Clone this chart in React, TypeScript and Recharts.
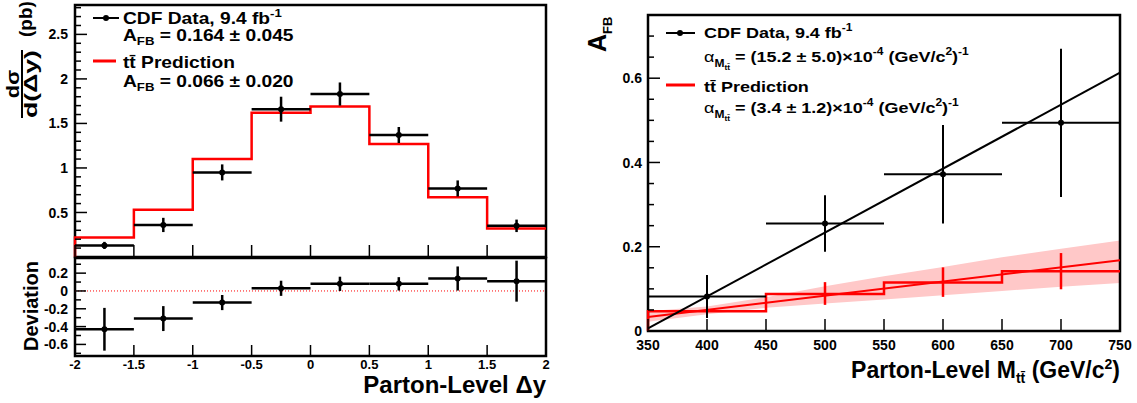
import React from 'react'
import {
  ComposedChart,
  Line,
  Scatter,
  ErrorBar,
  XAxis,
  YAxis,
  Area,
  ReferenceLine,
  ReferenceArea,
} from 'recharts'

const FONT = '"Liberation Sans", Arial, Helvetica, sans-serif'

// left panel: parton-level delta-y, 8 bins of 0.5
const dyEdges = [-2, -1.5, -1, -0.5, 0, 0.5, 1, 1.5, 2]
const dyCenters = [-1.75, -1.25, -0.75, -0.25, 0.25, 0.75, 1.25, 1.75]
const dyData = [0.13, 0.36, 0.95, 1.66, 1.83, 1.37, 0.77, 0.35]
const dyDataErr = [0.04, 0.08, 0.09, 0.14, 0.13, 0.09, 0.09, 0.07]
const dyPred = [0.22, 0.53, 1.1, 1.62, 1.69, 1.27, 0.67, 0.32]
const dev = [-0.43, -0.31, -0.13, 0.03, 0.08, 0.08, 0.14, 0.11]
const devErr = [0.24, 0.14, 0.085, 0.085, 0.08, 0.075, 0.135, 0.23]

// right panel: A_FB vs M_tt
const mEdges = [350, 450, 550, 650, 750]
const mCenters = [400, 500, 600, 700]
const afbData = [0.082, 0.255, 0.372, 0.494]
const afbErr = [0.051, 0.067, 0.117, 0.176]
const afbPred = [0.047, 0.088, 0.115, 0.142]
const predPtM = [500, 600, 700]
const predPtVal = [0.089, 0.116, 0.142]
const predPtErr = [0.027, 0.035, 0.043]
const dataFitM = [350, 750]
const dataFitVal = [0.006, 0.613]
const predFitM = [350, 750]
const predFitVal = [0.033, 0.168]
const bandM = [350, 400, 450, 500, 550, 600, 650, 700, 750]
const bandLo = [0.022, 0.04, 0.055, 0.065, 0.075, 0.085, 0.095, 0.105, 0.114]
const bandHi = [0.047, 0.058, 0.08, 0.106, 0.13, 0.152, 0.175, 0.195, 0.215]

// ticks
const topMajors = [0.5, 1, 1.5, 2, 2.5]
const topTicks = Array.from({ length: 28 }, (_, i) => +(0.1 * (i + 1)).toFixed(1))
const devMajors = [-0.6, -0.4, -0.2, 0, 0.2]
const devTicks = [-0.7, -0.6, -0.5, -0.4, -0.3, -0.2, -0.1, 0, 0.1, 0.2, 0.3]
const afbMajors = [0, 0.2, 0.4, 0.6]
const afbTicks = Array.from({ length: 15 }, (_, i) => +(0.05 * i).toFixed(2))
const mTicks = [350, 400, 450, 500, 550, 600, 650, 700, 750]

const stepData = (edges: number[], vals: number[]) => [
  { x: edges[0], y: 0 },
  ...edges.map((e, i) => ({ x: e, y: vals[Math.min(i, vals.length - 1)] })),
]

const dyPts = dyCenters.map((x, i) => ({ x, y: dyData[i], ex: 0.25, ey: dyDataErr[i] }))
const devPts = dyCenters.map((x, i) => ({ x, y: dev[i], ex: 0.25, ey: devErr[i] }))
const afbPts = mCenters.map((x, i) => ({ x, y: afbData[i], ex: 50, ey: afbErr[i] }))
const predPts = predPtM.map((x, i) => ({ x, y: predPtVal[i], ey: predPtErr[i] }))
const dataFit = dataFitM.map((x, i) => ({ x, y: dataFitVal[i] }))
const predFit = predFitM.map((x, i) => ({ x, y: predFitVal[i] }))
const band = bandM.map((x, i) => ({ x, lo: bandLo[i], hi: bandHi[i] }))

const txt = { fontFamily: FONT, fontWeight: 'bold' as const, fill: '#000' }

const yTick = (majors: number[], gap: number, big: number, small: number) => (p: any) => {
  const v = p.payload.value
  const major = majors.includes(v)
  const ax = p.x + gap
  return (
    <g>
      <line x1={ax} x2={ax + (major ? big : small)} y1={p.y} y2={p.y} stroke="#000" strokeWidth={1.5} />
      {major && (
        <text x={p.x} y={p.y} dy="0.36em" textAnchor="end" fontSize={14} {...txt}>
          {v}
        </text>
      )}
    </g>
  )
}

const xTick = (gap: number, len: number, size: number) => (p: any) => {
  const ay = p.y - gap
  return (
    <g>
      <line x1={p.x} x2={p.x} y1={ay} y2={ay - len} stroke="#000" strokeWidth={1.5} />
      {size > 0 && (
        <text x={p.x} y={p.y} dy="0.72em" textAnchor="middle" fontSize={size} {...txt}>
          {p.payload.value}
        </text>
      )}
    </g>
  )
}

const dot = (p: any) => <circle cx={p.cx} cy={p.cy} r={3} fill="#000" />
const noDot = () => <g />

const TopLeft = () => (
  <ComposedChart width={560} height={262} margin={{ top: 5, right: 14, bottom: 0, left: 0 }}>
    <XAxis type="number" dataKey="x" domain={[-2, 2]} ticks={dyEdges} interval={0} height={5}
      tickSize={0} tickMargin={0} axisLine={false} tick={xTick(0, 12, 0)} />
    <YAxis type="number" dataKey="y" domain={[0, 2.83]} ticks={topTicks} interval={0} width={75}
      tickSize={0} tickMargin={7} axisLine={false} tick={yTick(topMajors, 7, 12, 6)} />
    <Line data={stepData(dyEdges, dyPred)} dataKey="y" type="stepAfter" stroke="#ff0000"
      strokeWidth={2.5} dot={false} isAnimationActive={false} />
    <Scatter data={dyPts} dataKey="y" shape={dot} isAnimationActive={false}>
      <ErrorBar dataKey="ex" direction="x" width={0} stroke="#000" strokeWidth={2.5} />
      <ErrorBar dataKey="ey" direction="y" width={0} stroke="#000" strokeWidth={2.5} />
    </Scatter>
    <ReferenceArea x1={-2} x2={2} y1={0} y2={2.83} fill="none" stroke="#000" strokeWidth={2.5} />
  </ComposedChart>
)

const BottomLeft = () => (
  <ComposedChart width={560} height={151} margin={{ top: 6, right: 14, bottom: 0, left: 0 }}>
    <XAxis type="number" dataKey="x" domain={[-2, 2]} ticks={dyEdges} interval={0} height={47}
      tickSize={0} tickMargin={4} axisLine={false} tick={xTick(4, 11, 13)} />
    <YAxis type="number" dataKey="y" domain={[-0.73, 0.37]} ticks={devTicks} interval={0} width={75}
      tickSize={0} tickMargin={7} axisLine={false} tick={yTick(devMajors, 7, 11, 6)} />
    <ReferenceLine y={0} stroke="#ff0000" strokeDasharray="1 2" strokeWidth={1} />
    <Scatter data={devPts} dataKey="y" shape={dot} isAnimationActive={false}>
      <ErrorBar dataKey="ex" direction="x" width={0} stroke="#000" strokeWidth={2.5} />
      <ErrorBar dataKey="ey" direction="y" width={0} stroke="#000" strokeWidth={2.5} />
    </Scatter>
    <ReferenceArea x1={-2} x2={2} y1={-0.73} y2={0.37} fill="none" stroke="#000" strokeWidth={2.5} />
  </ComposedChart>
)

const Right = () => (
  <ComposedChart width={567} height={403} data={band} margin={{ top: 15, right: 17, bottom: 0, left: 0 }}>
    <XAxis type="number" dataKey="x" domain={[350, 750]} ticks={mTicks} interval={0} height={72}
      tickSize={0} tickMargin={9} axisLine={false} tick={xTick(9, 12, 14)} />
    <YAxis type="number" dataKey="y" domain={[0, 0.75]} ticks={afbTicks} interval={0} width={78}
      tickSize={0} tickMargin={6} axisLine={false} tick={yTick(afbMajors, 6, 12, 6)} />
    <Area dataKey={(d: any) => [d.lo, d.hi]} type="linear" fill="#ffc8c8" fillOpacity={1}
      stroke="none" isAnimationActive={false} />
    <Line data={predFit} dataKey="y" type="linear" stroke="#ff0000" strokeWidth={2}
      dot={false} isAnimationActive={false} />
    <Line data={stepData(mEdges, afbPred)} dataKey="y" type="stepAfter" stroke="#ff0000"
      strokeWidth={2.5} dot={false} isAnimationActive={false} />
    <Scatter data={predPts} dataKey="y" shape={noDot} isAnimationActive={false}>
      <ErrorBar dataKey="ey" direction="y" width={0} stroke="#ff0000" strokeWidth={2.5} />
    </Scatter>
    <Line data={dataFit} dataKey="y" type="linear" stroke="#000" strokeWidth={2}
      dot={false} isAnimationActive={false} />
    <Scatter data={afbPts} dataKey="y" shape={dot} isAnimationActive={false}>
      <ErrorBar dataKey="ex" direction="x" width={0} stroke="#000" strokeWidth={2} />
      <ErrorBar dataKey="ey" direction="y" width={0} stroke="#000" strokeWidth={2} />
    </Scatter>
    <ReferenceArea x1={350} x2={750} y1={0} y2={0.75} fill="none" stroke="#000" strokeWidth={2.5} />
  </ComposedChart>
)

// stretch text sideways about its left anchor, the way the reference's labels are drawn
const wide = (x: number, s: number) => `translate(${x},0) scale(${s},1) translate(${-x},0)`

const Overlay = () => (
  <svg width={1137} height={403} style={{ position: 'absolute', left: 0, top: 0, pointerEvents: 'none' }}>
    <g {...txt}>
      {/* left legend */}
      <line x1={93} x2={119} y1={18} y2={18} stroke="#000" strokeWidth={2} />
      <circle cx={106} cy={18} r={3} fill="#000" />
      <g transform={wide(123, 1.2)}>
        <text x={123} y={24} fontSize={16}>
          CDF Data, 9.4 fb<tspan dy={-7} fontSize={11}>-1</tspan>
        </text>
        <text x={123} y={41} fontSize={16}>
          A<tspan dy={4} fontSize={11}>FB</tspan>
          <tspan dy={-4}> = 0.164 ± 0.045</tspan>
        </text>
        <text x={123} y={68} fontSize={16}>tt̄ Prediction</text>
        <text x={123} y={87} fontSize={16}>
          A<tspan dy={4} fontSize={11}>FB</tspan>
          <tspan dy={-4}> = 0.066 ± 0.020</tspan>
        </text>
      </g>
      <line x1={93} x2={116} y1={61} y2={61} stroke="#ff0000" strokeWidth={3} />

      {/* left axis titles */}
      <g transform="translate(22,118) rotate(-90)">
        <g transform="translate(34,-3) scale(1.15,1)">
          <text textAnchor="middle" fontSize={19}>dσ</text>
        </g>
        <line x1={0} x2={68} y1={0} y2={0} stroke="#000" strokeWidth={2} />
        <g transform="translate(34,15) scale(1.4,1)">
          <text textAnchor="middle" fontSize={19}>d(Δy)</text>
        </g>
        <text x={81} y={10} fontSize={19}>(pb)</text>
      </g>
      <g transform="translate(38,306) rotate(-90)">
        <text textAnchor="middle" fontSize={20}>Deviation</text>
      </g>
      <text x={546} y={393} textAnchor="end" fontSize={24}>Parton-Level Δy</text>

      {/* right legend */}
      <line x1={666} x2={695} y1={33} y2={33} stroke="#000" strokeWidth={2} />
      <circle cx={680} cy={33} r={3} fill="#000" />
      <line x1={666} x2={695} y1={85} y2={85} stroke="#ff0000" strokeWidth={3} />
      <g transform={wide(704, 1.2)}>
        <text x={704} y={38} fontSize={15}>
          CDF Data, 9.4 fb<tspan dy={-7} fontSize={10}>-1</tspan>
        </text>
        <text x={704} y={62} fontSize={15}>
          <tspan fontWeight="normal">α</tspan>
          <tspan dy={5} fontSize={10}>M</tspan>
          <tspan dy={3} fontSize={7}>tt̄</tspan>
          <tspan dy={-8}> = (15.2 ± 5.0)×10</tspan>
          <tspan dy={-7} fontSize={10}>-4</tspan>
          <tspan dy={7}> (GeV/c</tspan>
          <tspan dy={-7} fontSize={10}>2</tspan>
          <tspan dy={7}>)</tspan>
          <tspan dy={-7} fontSize={10}>-1</tspan>
        </text>
        <text x={704} y={92} fontSize={15}>tt̄ Prediction</text>
        <text x={704} y={113} fontSize={15}>
          <tspan fontWeight="normal">α</tspan>
          <tspan dy={5} fontSize={10}>M</tspan>
          <tspan dy={3} fontSize={7}>tt̄</tspan>
          <tspan dy={-8}> = (3.4 ± 1.2)×10</tspan>
          <tspan dy={-7} fontSize={10}>-4</tspan>
          <tspan dy={7}> (GeV/c</tspan>
          <tspan dy={-7} fontSize={10}>2</tspan>
          <tspan dy={7}>)</tspan>
          <tspan dy={-7} fontSize={10}>-1</tspan>
        </text>
      </g>

      {/* right axis titles */}
      <g transform="translate(606,52) rotate(-90)">
        <text fontSize={25}>
          A<tspan dy={6} fontSize={13}>FB</tspan>
        </text>
      </g>
      <text x={1120} y={378} textAnchor="end" fontSize={23}>
        Parton-Level M<tspan dy={5} fontSize={14}>tt̄</tspan>
        <tspan dy={-5}> (GeV/c</tspan>
        <tspan dy={-9} fontSize={14}>2</tspan>
        <tspan dy={9}>)</tspan>
      </text>
    </g>
  </svg>
)

export default function App() {
  return (
    <div style={{ position: 'absolute', left: 0, top: 0, width: 1137, height: 403, background: '#fff' }}>
      <div style={{ position: 'absolute', left: 0, top: 0 }}>
        <TopLeft />
      </div>
      <div style={{ position: 'absolute', left: 0, top: 252 }}>
        <BottomLeft />
      </div>
      <div style={{ position: 'absolute', left: 570, top: 0 }}>
        <Right />
      </div>
      <Overlay />
    </div>
  )
}
